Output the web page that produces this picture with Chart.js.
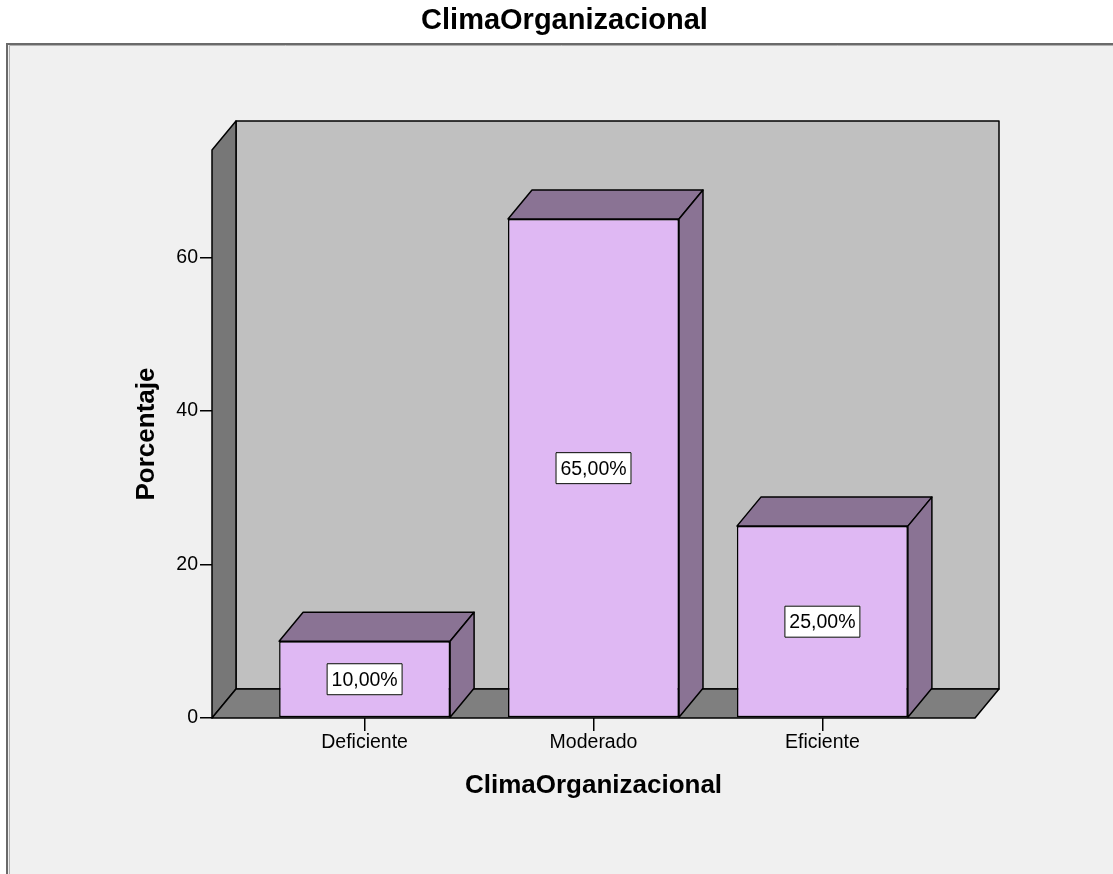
<!DOCTYPE html>
<html>
<head>
<meta charset="utf-8">
<script src="https://cdn.jsdelivr.net/npm/chart.js@4.4.1/dist/chart.umd.min.js"></script>
<style>
  body { margin: 0; background: #ffffff; }
  #wrap { width: 1113px; height: 874px; }
</style>
</head>
<body>
<div id="wrap"><canvas id="chart" width="1113" height="874"></canvas></div>
<script>
// data
const chartTitle = 'ClimaOrganizacional';
const categories = ['Deficiente', 'Moderado', 'Eficiente'];
const percentages = [10, 65, 25];
const valueLabels = ['10,00%', '65,00%', '25,00%'];
const yTickStep = 20;

const FONT = '"Liberation Sans", Arial, sans-serif';
// depth of the fake 3d box
const DX = 24, DY = 29;

function poly(ctx, pts, fill) {
  ctx.beginPath();
  ctx.moveTo(pts[0][0], pts[0][1]);
  for (let i = 1; i < pts.length; i++) ctx.lineTo(pts[i][0], pts[i][1]);
  ctx.closePath();
  ctx.fillStyle = fill;
  ctx.fill();
  ctx.stroke();
}

const box3d = {
  id: 'box3d',
  beforeDraw(chart) {
    const ctx = chart.ctx;
    const ca = chart.chartArea;
    ctx.save();
    // white strip + grey panel with its frame
    ctx.fillStyle = '#ffffff';
    ctx.fillRect(0, 0, chart.width, chart.height);
    ctx.fillStyle = '#f0f0f0';
    ctx.fillRect(8, 44, chart.width - 8, chart.height - 44);
    ctx.strokeStyle = '#6a6a6a';
    ctx.lineWidth = 2;
    ctx.beginPath();
    ctx.moveTo(7, chart.height);
    ctx.lineTo(7, 44);
    ctx.lineTo(chart.width, 44);
    ctx.stroke();
    ctx.strokeStyle = '#b0b0b0';
    ctx.lineWidth = 1;
    ctx.beginPath();
    ctx.moveTo(9.5, chart.height);
    ctx.lineTo(9.5, 45.5);
    ctx.lineTo(chart.width, 45.5);
    ctx.stroke();

    // chart title sits a bit right of the page centre, like the original
    ctx.fillStyle = '#000000';
    ctx.font = 'bold 29px ' + FONT;
    ctx.textAlign = 'center';
    ctx.textBaseline = 'middle';
    ctx.fillText(chartTitle, 564.5, 21);

    // walls and floor
    ctx.strokeStyle = '#000000';
    ctx.lineWidth = 1.5;
    ctx.lineJoin = 'round';
    poly(ctx, [[ca.left + DX, ca.top - DY], [ca.right + DX, ca.top - DY],
               [ca.right + DX, ca.bottom - DY], [ca.left + DX, ca.bottom - DY]], '#c0c0c0');
    poly(ctx, [[ca.left, ca.top], [ca.left + DX, ca.top - DY],
               [ca.left + DX, ca.bottom - DY], [ca.left, ca.bottom]], '#777777');
    poly(ctx, [[ca.left, ca.bottom], [ca.left + DX, ca.bottom - DY],
               [ca.right + DX, ca.bottom - DY], [ca.right, ca.bottom]], '#7f7f7f');
    ctx.restore();
  },
  afterDatasetsDraw(chart) {
    const ctx = chart.ctx;
    const meta = chart.getDatasetMeta(0);
    ctx.save();
    ctx.strokeStyle = '#000000';
    ctx.lineWidth = 1.5;
    ctx.lineJoin = 'round';
    meta.data.forEach((bar, i) => {
      const p = bar.getProps(['x', 'y', 'base', 'width'], true);
      const l = p.x - p.width / 2, r = p.x + p.width / 2;
      // top and right side of each bar
      poly(ctx, [[l, p.y], [l + DX, p.y - DY], [r + DX, p.y - DY], [r, p.y]], '#8a7394');
      poly(ctx, [[r, p.y], [r + DX, p.y - DY], [r + DX, p.base - DY], [r, p.base]], '#8a7394');

      // value label box
      const cy = (p.y + p.base) / 2;
      const bw = 76, bh = 32;
      ctx.fillStyle = '#ffffff';
      ctx.lineWidth = 1;
      ctx.fillRect(p.x - bw / 2, cy - bh / 2, bw, bh);
      ctx.strokeRect(p.x - bw / 2 + 0.5, cy - bh / 2 + 0.5, bw - 1, bh - 1);
      ctx.lineWidth = 1.5;
      ctx.fillStyle = '#000000';
      ctx.font = '19.5px ' + FONT;
      ctx.textAlign = 'center';
      ctx.textBaseline = 'middle';
      ctx.fillText(valueLabels[i], p.x, cy + 1);
    });
    ctx.restore();
  }
};

const ctx = document.getElementById('chart').getContext('2d');

new Chart(ctx, {
  type: 'bar',
  data: {
    datasets: [{
      data: percentages.map((v, i) => ({ x: i, y: v })),
      backgroundColor: '#dfb8f3',
      borderColor: '#000000',
      borderWidth: 1.5,
      borderSkipped: false,
      barPercentage: 0.747,
      categoryPercentage: 1
    }]
  },
  options: {
    responsive: false,
    animation: false,
    layout: { padding: { left: 120, right: 138, top: 150, bottom: 56 } },
    plugins: {
      legend: { display: false },
      tooltip: { enabled: false },
      title: { display: false }
    },
    scales: {
      x: {
        type: 'linear',
        offset: false,
        min: -2 / 3,
        max: 8 / 3,
        afterBuildTicks(scale) {
          scale.ticks = categories.map((c, i) => ({ value: i }));
        },
        afterFit(scale) { scale.height = 100; },
        border: { display: false },
        grid: { offset: false, drawOnChartArea: false, drawTicks: true, tickLength: 13, color: '#000000', lineWidth: 1.5 },
        ticks: {
          padding: 0,
          color: '#000000',
          font: { family: FONT, size: 19.5 },
          callback: (v) => categories[v]
        },
        title: {
          display: true,
          text: 'ClimaOrganizacional',
          color: '#000000',
          font: { family: FONT, size: 26, weight: 'bold', lineHeight: 1.2 },
          padding: { top: 0, bottom: 16.4 }
        }
      },
      y: {
        min: 0,
        max: 74,
        afterFit(scale) { scale.width = 92; },
        border: { display: false },
        grid: { drawOnChartArea: false, drawTicks: true, tickLength: 12, color: '#000000', lineWidth: 1.5 },
        ticks: {
          stepSize: yTickStep,
          includeBounds: false,
          padding: 2,
          color: '#000000',
          font: { family: FONT, size: 19.5 }
        },
        title: {
          display: true,
          text: 'Porcentaje',
          color: '#000000',
          font: { family: FONT, size: 26, weight: 'bold', lineHeight: 1.2 },
          padding: { top: 11.4, bottom: 0 }
        }
      }
    }
  },
  plugins: [box3d]
});
</script>
</body>
</html>
